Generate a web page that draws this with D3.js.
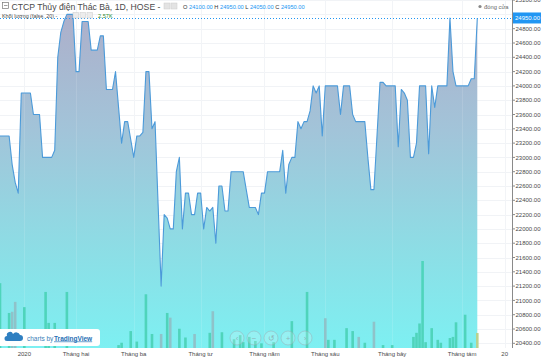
<!DOCTYPE html>
<html><head><meta charset="utf-8">
<script src="https://cdn.jsdelivr.net/npm/d3@7"></script>
<style>
body{margin:0;background:#fff;}
svg{display:block;font-family:"Liberation Sans",Arial,sans-serif;}
</style>
</head><body>
<svg id="c" width="541" height="358"></svg>
<script>
// ---- data ----
const closePrices = [
23300,23300,23300,23300,22900,22650,22500,23900,23900,23900,
23900,23600,23600,23600,23000,23000,23000,23000,23100,24400,
24750,24900,25000,25000,25000,24200,24200,24900,24900,24900,
24500,24500,24500,24700,24700,23950,23950,23950,24200,23700,
23200,23500,23500,23250,23000,23300,23300,23350,24200,24200,
23400,23500,22350,21200,22200,22150,22000,22000,22800,23000,
22000,22500,22500,22200,22200,22500,22500,22000,22300,22250,
22300,21800,22600,22600,22250,22250,22800,22800,22800,22800,
22800,22550,22300,22300,22300,22200,22500,22500,22800,22800,
22800,22800,22800,23100,22500,22900,23000,23000,23500,23400,
23500,23500,23650,24000,23900,24000,23300,24000,24000,24000,
24000,24000,23600,24000,24000,24000,23600,23500,23500,23500,
23500,23000,22550,22550,23300,24050,24050,24000,24000,24000,
24000,23150,23950,23900,23800,23000,23000,23200,24000,24000,
24000,23050,24000,23700,24000,24000,24000,24000,24950,24200,
24000,24000,24000,24000,24000,24100,24100,24950];
const volIdx = [0,3,4,5,8,15,16,18,22,39,40,43,45,48,50,53,55,56,59,61,64,69,70,73,77,79,80,82,84,86,90,96,101,107,108,110,114,116,118,120,123,126,129,136,137,138,139,140,142,144,145,148,149,150,153,155,157];
const volK = [11.1,6.0,6.2,7.9,7.0,9.6,4.3,4.3,9.6,0.5,0.9,2.9,1.1,9.2,2.4,2.4,6.0,5.2,3.3,1.8,2.4,2.6,6.3,2.7,1.5,2.2,1.0,1.9,1.2,0.8,1.0,4.6,9.6,5.1,1.4,1.4,3.4,2.9,1.9,0.9,4.5,0.5,0.5,1.9,2.6,4.2,14.9,1.0,3.4,1.4,0.9,1.7,1.9,4.4,5.7,0.9,2.57];
const volDownIdx = [4,5,53,56,64,70,107,118,123];
const monthTickIdx = [8,25,44,66,87,107,129,152,166];
const monthLabels = ["2020","Tháng hai","Tháng ba","Tháng tư","Tháng năm","Tháng sáu","Tháng bảy","Tháng tám","20"];
const priceTicks = [20400,20600,20800,21000,21200,21400,21600,21800,22000,22200,22400,22600,22800,23000,23200,23400,23600,23800,24000,24200,24400,24600,24800,25000,25200];
const ohlcKeys = ["O","H","L","C"];
const ohlcVals = [24100,24950,24050,24950];
const lastPrice = 24950;
const lastVolLabel = "2.57K";
const title = "CTCP Thủy điện Thác Bà, 1D, HOSE";
const volTitle = "Khối lượng (false, 20)";

// ---- layout ----
const W = 541, H = 358, plotR = 512, plotB = 348;
const svg = d3.select("#c");
const x = d3.scaleLinear().domain([0, 157]).range([0, 477.3]);
const y = d3.scaleLinear().domain([20400, 25000]).range([343.3, 14.4]);
const yv = d3.scaleLinear().domain([0, 15]).range([plotB, 260.4]);

const defs = svg.append("defs");
const g = defs.append("linearGradient").attr("id","ag").attr("gradientUnits","userSpaceOnUse")
  .attr("x1",0).attr("y1",14).attr("x2",0).attr("y2",plotB);
g.append("stop").attr("offset",0).attr("stop-color","#adafca");
g.append("stop").attr("offset",0.35).attr("stop-color","#a2c4d9");
g.append("stop").attr("offset",0.7).attr("stop-color","#8ddde5");
g.append("stop").attr("offset",1).attr("stop-color","#7df0f2");
defs.append("clipPath").attr("id","pc").append("rect").attr("x",0).attr("y",0).attr("width",plotR).attr("height",plotB);

svg.append("rect").attr("width",W).attr("height",H).attr("fill","#fff");

const plot = svg.append("g").attr("clip-path","url(#pc)");
// grid
plot.selectAll(".hg").data(priceTicks).join("line")
  .attr("x1",0).attr("x2",plotR).attr("y1",d=>Math.round(y(d))+0.5).attr("y2",d=>Math.round(y(d))+0.5)
  .attr("stroke","#f1f3f6").attr("stroke-width",1);
plot.selectAll(".vg").data(monthTickIdx).join("line")
  .attr("x1",d=>Math.round(x(d))+0.5).attr("x2",d=>Math.round(x(d))+0.5).attr("y1",0).attr("y2",plotB)
  .attr("stroke","#f1f3f6").attr("stroke-width",1);

// area
const pts = closePrices.map((v,i)=>[i,v]);
plot.append("path").datum(pts)
  .attr("d", d3.area().x(d=>x(d[0])).y0(plotB).y1(d=>y(d[1])))
  .attr("fill","url(#ag)");

plot.selectAll(".vg2").data(monthTickIdx).join("line")
  .attr("x1",d=>Math.round(x(d))+0.5).attr("x2",d=>Math.round(x(d))+0.5).attr("y1",0).attr("y2",plotB)
  .attr("stroke","#ffffff").attr("stroke-opacity",0.12);

// volume
const downSet = new Set(volDownIdx);
plot.selectAll(".vb").data(volIdx.map((d,i)=>({i:d,v:volK[i]}))).join("rect")
  .attr("x",d=>x(d.i)-1.3).attr("width",2.6)
  .attr("y",d=>yv(d.v)).attr("height",d=>plotB-yv(d.v))
  .attr("fill",d=> d.i===157 ? "#b9d28f" : (downSet.has(d.i) ? "#8fc2c9" : "#4fd4bb"));

// line
plot.append("path").datum(pts)
  .attr("d", d3.line().x(d=>x(d[0])).y(d=>y(d[1])))
  .attr("fill","none").attr("stroke","#4b9ad9").attr("stroke-width",1.1).attr("stroke-linejoin","round");

// last price dotted line
plot.append("line").attr("x1",0).attr("x2",plotR)
  .attr("y1",Math.round(y(lastPrice))+0.5).attr("y2",Math.round(y(lastPrice))+0.5)
  .attr("stroke","#2196f3").attr("stroke-dasharray","1,2").attr("stroke-width",1);

// right axis
const ax = svg.append("g");
ax.append("line").attr("x1",plotR+0.5).attr("x2",plotR+0.5).attr("y1",0).attr("y2",plotB)
  .attr("stroke","#8a8a8a");
const shownTicks = priceTicks.filter(d => Math.abs(y(d) - y(lastPrice)) > 6);
const tk = ax.selectAll(".tk").data(shownTicks).join("g")
  .attr("transform",d=>`translate(0,${y(d)})`);
tk.append("line").attr("x1",plotR).attr("x2",plotR+3).attr("stroke","#8a8a8a");
tk.append("text").attr("x",plotR+3.5).attr("dy","0.35em").attr("font-size",6.0).attr("fill","#4a4a4a")
  .text(d=>d.toFixed(2));
// last price label
const ly = y(lastPrice);
ax.append("rect").attr("x",plotR+1).attr("y",ly-5.5).attr("width",W-plotR-1).attr("height",11).attr("fill","#2196f3");
ax.append("text").attr("x",plotR+3).attr("y",ly).attr("dy","0.35em").attr("font-size",6.0).attr("fill","#fff")
  .text(lastPrice.toFixed(2));

// x axis labels
svg.selectAll(".xl").data(monthTickIdx).join("text")
  .attr("x",d=>x(d)).attr("y",355.5).attr("text-anchor","middle").attr("font-size",6).attr("fill","#4a4a4a")
  .text((d,i)=>monthLabels[i]);

// header
svg.append("rect").attr("x",2.5).attr("y",2.5).attr("width",6).attr("height",6).attr("fill","none").attr("stroke","#777").attr("stroke-width",0.7);
svg.append("line").attr("x1",4).attr("x2",7.5).attr("y1",5.5).attr("y2",5.5).attr("stroke","#777").attr("stroke-width",0.7);
svg.append("text").attr("x",11.5).attr("y",9.6).attr("font-size",9.4).attr("fill","#4a4a4a")
  .attr("textLength",149).attr("lengthAdjust","spacingAndGlyphs").text(title + " -");
[164,171].forEach(px=>svg.append("rect").attr("x",px).attr("y",3).attr("width",6).attr("height",6).attr("fill","#e3e3e3").attr("stroke","#ccc").attr("stroke-width",0.5));
const oh = svg.append("text").attr("x",183).attr("y",8.8).attr("font-size",5.7);
ohlcKeys.forEach((k,i)=>{
  oh.append("tspan").attr("fill","#333").text((i?"  ":"")+k+" ");
  oh.append("tspan").attr("fill","#2196f3").text(ohlcVals[i].toFixed(2));
});
svg.append("text").attr("x",2).attr("y",17.6).attr("font-size",5.4).attr("fill","#4a4a4a").text(volTitle + " -");
[73,80,87].forEach(px=>svg.append("rect").attr("x",px).attr("y",12.5).attr("width",5.5).attr("height",5.5).attr("fill","#ececec").attr("stroke","#ccc").attr("stroke-width",0.5));
svg.append("text").attr("x",98).attr("y",17.6).attr("font-size",5.6).attr("fill","#2e8b2e").text(lastVolLabel);
svg.append("circle").attr("cx",480).attr("cy",6.5).attr("r",1.6).attr("fill","#888");
svg.append("text").attr("x",484).attr("y",8.6).attr("font-size",5.8).attr("fill","#666").text("đóng cửa");

// logo box
const lg = svg.append("g");
lg.append("rect").attr("x",-3).attr("y",329).attr("width",103).attr("height",17).attr("rx",3).attr("fill","#fff");
lg.append("path").attr("d","M7,341 h13 a3,3 0 0 0 0,-6 a4,4 0 0 0 -7,-1 a3,3 0 0 0 -6,2 a2.5,2.5 0 0 0 0,5 z").attr("fill","#2f7fc1");
lg.append("text").attr("x",27).attr("y",340.5).attr("font-size",6.5).attr("fill","#3d7fb8").text("charts by");
lg.append("text").attr("x",54).attr("y",340.5).attr("font-size",6.5).attr("font-weight","bold").attr("fill","#1f6fb5")
  .attr("text-decoration","underline").text("TradingView");

// nav buttons
const btns = ["‹","−","↺","+","›"];
const bg = svg.selectAll(".bt").data(btns).join("g").attr("transform",(d,i)=>`translate(${237+i*17},338)`);
bg.append("circle").attr("r",7).attr("fill","#ffffff").attr("fill-opacity",0.18).attr("stroke","#9aa7ad").attr("stroke-opacity",0.45);
bg.append("text").attr("text-anchor","middle").attr("dy","0.35em").attr("font-size",8).attr("fill","#8a9aa0").attr("fill-opacity",0.7).text(d=>d);
</script>
</body></html>
